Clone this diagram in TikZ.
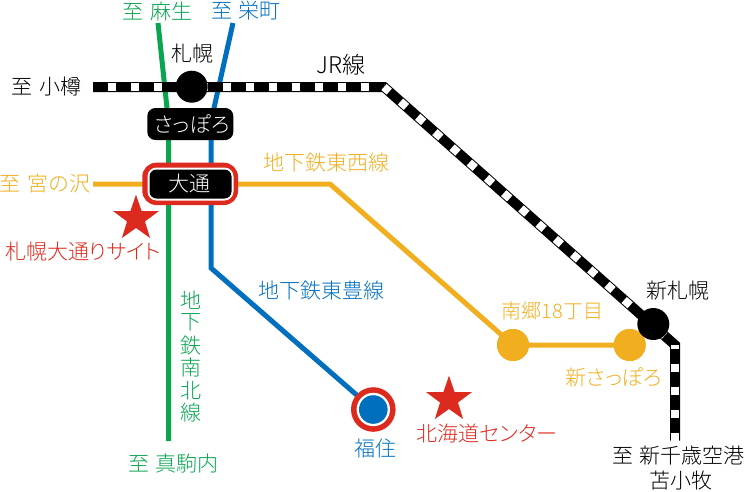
\documentclass[tikz,border=0pt]{standalone}
\usepackage{fontspec}
\setmainfont[RawFeature={+palt}]{Noto Sans CJK JP Light}
\usetikzlibrary{shapes.geometric}
\definecolor{lgreen}{RGB}{10,165,80}
\definecolor{lblue}{RGB}{0,112,190}
\definecolor{lorange}{RGB}{241,174,30}
\definecolor{lred}{RGB}{220,42,30}
\newcommand{\wordgap}{\hspace{7pt}}
\tikzset{
  lab/.style={inner sep=0pt,font=\fontsize{21}{24}\selectfont},
  greenline/.style={draw=lgreen,line width=5pt},
  blueline/.style={draw=lblue,line width=5pt},
  orangeline/.style={draw=lorange,line width=5pt},
  railbase/.style={draw=black,line width=10pt},
  railwhite/.style={draw=white,line width=8pt,dash pattern=on 8pt off 15pt},
  jrstation/.style={circle,fill=black,minimum size=32pt,inner sep=0pt},
  orangestation/.style={circle,fill=lorange,minimum size=32pt,inner sep=0pt},
  redstar/.style={star,star points=5,star point ratio=2.55,fill=lred,minimum size=48pt,inner sep=0pt},
}
\begin{document}
\begin{tikzpicture}[x=1pt,y=-1pt]
\useasboundingbox (0,0) rectangle (745,491);
% anchor points
\coordinate (g1) at (158,23);
\coordinate (g2) at (167,108);
\coordinate (g3) at (168.7,130);
\coordinate (g4) at (168.7,441);
\coordinate (b1) at (233,23);
\coordinate (b2) at (214,108);
\coordinate (b3) at (211,130);
\coordinate (b4) at (211,268);
\coordinate (fk) at (373.3,409.5);
\coordinate (o1) at (93,184);
\coordinate (o2) at (330,184);
\coordinate (r1) at (93,87);
\coordinate (r2) at (384,87);
\coordinate (r3) at (675,345);
\coordinate (r4) at (675,440.5);
% station nodes
\node[orangestation] (nango) at (513,345) {};
\node[orangestation] (shinsap) at (629.7,345) {};
% lines
\draw[greenline] (g1) -- (g2) -- (g3) -- (g4);
\draw[blueline] (b1) -- (b2) -- (b3) -- (b4) -- (fk);
\draw[orangeline] (o1) -- (o2) -- (nango.center) -- (shinsap.center);
\draw[railbase,line join=miter] (r1) -- (r2) -- (r3) -- (r4);
\draw[railwhite,dash phase=8pt] (r1) -- (r2);
\draw[railwhite,dash phase=1pt] (r2) -- (r3);
\draw[railwhite,dash phase=4pt] (r3) -- (r4);
% stations
\node[orangestation] at (nango) {};
\node[orangestation] at (shinsap) {};
\node[jrstation] (sapporo) at (191.7,86.7) {};
\node[jrstation] (shinsapporo) at (653.3,324) {};
\filldraw[fill=black,draw=none,rounded corners=8pt] (147.3,108) rectangle (233.3,140);
\filldraw[fill=lred,draw=none,rounded corners=14pt] (142.3,162.7) rectangle (238,205);
\filldraw[fill=white,draw=none,rounded corners=9pt] (147.5,167.5) rectangle (233.5,200.5);
\filldraw[fill=black,draw=none,rounded corners=7pt] (149.5,169.5) rectangle (231.5,198.5);
\node[circle,fill=lred,minimum size=44.6pt,inner sep=0pt] (fuku1) at (fk) {};
\node[circle,fill=white,minimum size=33.4pt,inner sep=0pt] (fuku2) at (fk) {};
\node[circle,fill=lblue,minimum size=28.6pt,inner sep=0pt] (fuku3) at (fk) {};
\node[redstar] (star1) at (136,218.6) {};
\node[redstar] (star2) at (449,399.6) {};
% labels
\node[lab,text=lgreen] (t1) at (157.5,11) {至\wordgap 麻生};
\node[lab,text=lblue] (t2) at (246,11) {至\wordgap 栄町};
\node[lab] (t3) at (192,54) {札幌};
\node[lab] (t4) at (46.5,87) {至\wordgap 小樽};
\node[lab,font=\fontsize{23}{26}\selectfont] (t5) at (341,65) {JR線};
\node[lab,text=white] (t6) at (192,124) {さっぽろ};
\node[lab,text=white] (t7) at (189,184) {大通};
\node[lab,text=lorange] (t8) at (45,184) {至\wordgap 宮の沢};
\node[lab,text=lorange] (t9) at (326,163) {地下鉄東西線};
\node[lab,text=lred] (t10) at (83,252) {札幌大通りサイト};
\node[lab,text=lblue] (t11) at (321,291) {地下鉄東豊線};
\node[lab,text=lorange,font=\fontsize{20}{24}\selectfont] (t12) at (552.5,311) {南郷18丁目};
\node[lab] (t13) at (678,291) {新札幌};
\node[lab,text=lorange] (t14) at (614,377) {新さっぽろ};
\node[lab,text=lblue] (t15) at (375,448) {福住};
\node[lab,text=lred] (t16) at (487,433) {北海道センター};
\node[lab,text=lgreen] (t17) at (173.5,464) {至\wordgap 真駒内};
\node[lab] (t18) at (678.5,456) {至\wordgap 新千歳空港};
\node[lab] (t19) at (681,481) {苫小牧};
\node[lab,text=lgreen] (v1) at (191,300) {地};
\node[lab,text=lgreen] (v2) at (191,322.6) {下};
\node[lab,text=lgreen] (v3) at (191,345.2) {鉄};
\node[lab,text=lgreen] (v4) at (191,367.8) {南};
\node[lab,text=lgreen] (v5) at (191,390.4) {北};
\node[lab,text=lgreen] (v6) at (191,413) {線};
\end{tikzpicture}
\end{document}
